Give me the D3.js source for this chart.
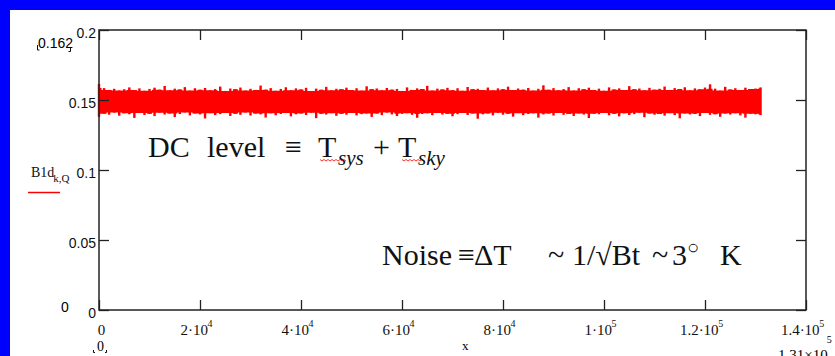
<!DOCTYPE html>
<html lang="en">
<head>
<meta charset="UTF-8">
<title>DC level and noise</title>
<script src="https://d3js.org/d3.v7.min.js"></script>
<style>
    body { margin: 0; background: #0000ff; }
    .ylab { font-family: "Liberation Sans", Arial, sans-serif; font-size: 14px; }
    .serif { font-family: "Liberation Serif", "Times New Roman", serif; }
</style>
</head>
<body>
<div id="chart"></div>
<script>
// Data
const xStart = 0, xStep = 1000;   // envelope samples every 1000 along x, from 0 to 131000
const noiseHi = [
    0.1615,0.1585,0.1572,0.1580,0.1568,0.1577,0.1590,0.1571,0.1583,0.1566,
    0.1579,0.1588,0.1574,0.1600,0.1569,0.1581,0.1575,0.1592,0.1567,0.1584,
    0.1573,0.1586,0.1570,0.1578,0.1596,0.1565,0.1582,0.1576,0.1589,0.1568,
    0.1580,0.1572,0.1603,0.1574,0.1585,0.1566,0.1579,0.1591,0.1570,0.1583,
    0.1575,0.1587,0.1564,0.1581,0.1573,0.1594,0.1569,0.1580,0.1576,0.1588,
    0.1571,0.1584,0.1567,0.1598,0.1577,0.1582,0.1570,0.1586,0.1574,0.1579,
    0.1565,0.1590,0.1572,0.1583,0.1578,0.1601,0.1568,0.1581,0.1575,0.1587,
    0.1570,0.1584,0.1566,0.1593,0.1576,0.1580,0.1572,0.1589,0.1569,0.1583,
    0.1577,0.1595,0.1571,0.1582,0.1574,0.1586,0.1567,0.1580,0.1605,0.1573,
    0.1585,0.1570,0.1578,0.1592,0.1568,0.1584,0.1576,0.1588,0.1572,0.1581,
    0.1566,0.1590,0.1575,0.1583,0.1571,0.1599,0.1577,0.1582,0.1569,0.1587,
    0.1574,0.1580,0.1596,0.1572,0.1585,0.1578,0.1591,0.1570,0.1583,0.1576,
    0.1589,0.1612,0.1581,0.1567,0.1594,0.1575,0.1584,0.1571,0.1588,0.1578,
    0.1582,0.1590
];
const noiseLo = [
    0.1380,0.1402,0.1395,0.1410,0.1388,0.1405,0.1398,0.1372,0.1407,0.1393,
    0.1401,0.1385,0.1409,0.1396,0.1403,0.1378,0.1400,0.1411,0.1390,0.1404,
    0.1397,0.1368,0.1406,0.1392,0.1399,0.1408,0.1386,0.1402,0.1394,0.1410,
    0.1389,0.1403,0.1397,0.1375,0.1405,0.1391,0.1400,0.1407,0.1383,0.1398,
    0.1404,0.1393,0.1409,0.1370,0.1401,0.1396,0.1406,0.1387,0.1402,0.1395,
    0.1408,0.1390,0.1399,0.1404,0.1379,0.1403,0.1392,0.1410,0.1397,0.1385,
    0.1401,0.1406,0.1394,0.1373,0.1400,0.1405,0.1391,0.1408,0.1396,0.1402,
    0.1384,0.1399,0.1407,0.1393,0.1403,0.1366,0.1398,0.1404,0.1390,0.1409,
    0.1395,0.1401,0.1381,0.1406,0.1392,0.1400,0.1405,0.1374,0.1397,0.1403,
    0.1389,0.1408,0.1394,0.1400,0.1386,0.1404,0.1396,0.1371,0.1402,0.1398,
    0.1407,0.1391,0.1401,0.1383,0.1405,0.1393,0.1399,0.1409,0.1377,0.1403,
    0.1395,0.1400,0.1388,0.1406,0.1392,0.1369,0.1404,0.1397,0.1401,0.1385,
    0.1408,0.1394,0.1399,0.1380,0.1403,0.1396,0.1405,0.1390,0.1374,0.1402,
    0.1398,0.1392
];
const xTicks = [0, 20000, 40000, 60000, 80000, 100000, 120000, 140000];
const xTickLabels = [["0", ""], ["2·10", "4"], ["4·10", "4"], ["6·10", "4"], ["8·10", "4"],
                     ["1·10", "5"], ["1.2·10", "5"], ["1.4·10", "5"]];
const yTicks = [0, 0.05, 0.1, 0.15, 0.2];
const yTickLabels = ["0", "0.05", "0.1", "0.15", "0.2"];
const yMarker = "0.162", yMin = "0", xMin = "0", xMax = ["1.31×10", "5"];

const W = 835, H = 356;
const plot = { left: 99, right: 806, top: 30, bottom: 310 };

const svg = d3.select("#chart").append("svg")
    .attr("width", W).attr("height", H);

// blue frame and white page
svg.append("rect").attr("width", W).attr("height", H).attr("fill", "#0000ff");
svg.append("rect").attr("x", 10).attr("y", 10).attr("width", W - 10).attr("height", H - 10).attr("fill", "#fff");

const x = d3.scaleLinear().domain([0, 140000]).range([plot.left, plot.right]);
const y = d3.scaleLinear().domain([0, 0.2]).range([plot.bottom, plot.top]);

// noise band: a body between neighbouring samples, with each sample drawn as a thin spike
const band = noiseHi.map((h, i) => ({ x: xStart + i * xStep, hi: h, lo: noiseLo[i] }));
const n = band.length;
const body = band.map((d, i) => {
    const nb = band.slice(Math.max(0, i - 1), Math.min(n, i + 2));
    return { x: d.x, hi: d3.min(nb, e => e.hi), lo: d3.max(nb, e => e.lo) };
});
svg.append("path").datum(body)
    .attr("d", d3.area().curve(d3.curveStep).x(d => x(d.x)).y0(d => y(d.lo)).y1(d => y(d.hi)))
    .attr("fill", "#ff0000");

svg.append("g").selectAll("rect").data(band).join("rect")
    .attr("x", d => x(d.x) - 1.2)
    .attr("width", 2.4)
    .attr("y", d => y(d.hi))
    .attr("height", d => y(d.lo) - y(d.hi))
    .attr("fill", "#ff0000");

// axes with inward ticks
const left = svg.append("g").attr("transform", `translate(${plot.left},0)`)
    .call(d3.axisLeft(y).tickValues(yTicks).tickSize(-10).tickSizeOuter(0).tickPadding(3)
        .tickFormat((d, i) => yTickLabels[i]));
left.selectAll("text").attr("class", "ylab").attr("fill", "#111").attr("dy", "0.52em");

svg.append("g").attr("transform", `translate(${plot.right},0)`)
    .call(d3.axisRight(y).tickValues(yTicks).tickSize(-10).tickSizeOuter(0).tickFormat(""));

svg.append("g").attr("transform", `translate(0,${plot.top})`)
    .call(d3.axisTop(x).tickValues(xTicks).tickSize(-10).tickSizeOuter(0).tickFormat(""));

const bottom = svg.append("g").attr("transform", `translate(0,${plot.bottom})`)
    .call(d3.axisBottom(x).tickValues(xTicks).tickSize(-10).tickSizeOuter(0).tickFormat(""));

bottom.selectAll(".tick").each(function (d, i) {
    const [base, sup] = xTickLabels[i];
    const t = d3.select(this).append("text")
        .attr("class", "serif")
        .attr("fill", "#111")
        .attr("font-size", 15)
        .attr("text-anchor", "middle")
        .attr("y", 25)
        .attr("x", sup ? -4 : 2);
    t.append("tspan").text(base);
    if (sup) t.append("tspan").attr("font-size", 10).attr("dx", -0.5).attr("dy", -8).text(sup);
});

svg.selectAll(".domain").remove();
svg.selectAll(".tick line").attr("stroke", "#222").attr("stroke-width", 1.3);

// plot frame
svg.append("rect")
    .attr("x", plot.left).attr("y", plot.top)
    .attr("width", plot.right - plot.left).attr("height", plot.bottom - plot.top)
    .attr("fill", "none").attr("stroke", "#222").attr("stroke-width", 1.5);

// y marker value and y min
svg.append("text").attr("class", "ylab").attr("x", 38).attr("y", 48).attr("font-size", 13).text(yMarker);
svg.append("path").attr("d", "M37.5,45V50H39.5 M70.5,47V51.5H68.5")
    .attr("fill", "none").attr("stroke", "#111").attr("stroke-width", 1);
svg.append("text").attr("class", "ylab").attr("x", 61).attr("y", 312).text(yMin);

// trace name and legend line
const lab = svg.append("text").attr("class", "serif").attr("x", 31).attr("y", 177).attr("font-size", 14).attr("fill", "#111");
lab.append("tspan").text("B1d");
lab.append("tspan").attr("dx", -1).attr("dy", 5).attr("font-size", 11).text("k,Q");
svg.append("line").attr("x1", 28).attr("x2", 60).attr("y1", 192.5).attr("y2", 192.5)
    .attr("stroke", "#ff0000").attr("stroke-width", 1.5);

// x min / x name / x max
svg.append("text").attr("class", "serif").attr("x", 97).attr("y", 351).attr("font-size", 14).text(xMin);
svg.append("path").attr("d", "M93.5,350V352.5H95 M106.5,350V352.5H105")
    .attr("fill", "none").attr("stroke", "#111").attr("stroke-width", 1);
svg.append("text").attr("class", "serif").attr("x", 462).attr("y", 350).attr("font-size", 13).text("x");
const xm = svg.append("text").attr("class", "serif").attr("x", 778).attr("y", 360).attr("font-size", 15);
xm.append("tspan").text(xMax[0]);
xm.append("tspan").attr("font-size", 10).attr("dx", -1).attr("dy", -17).text(xMax[1]);

// annotations
function piece(g, px, py, str, size, italic) {
    g.append("text").attr("x", px).attr("y", py)
        .attr("font-family", '"Liberation Serif", "Times New Roman", serif')
        .attr("font-size", size).attr("font-style", italic ? "italic" : null)
        .attr("fill", "#111").text(str);
}
const dc = svg.append("g");
piece(dc, 148, 157, "DC", 30);
piece(dc, 207, 157, "level", 30);
piece(dc, 285, 157, "≡", 30);
piece(dc, 318, 157, "T", 30);
piece(dc, 338, 165, "sys", 21, true);
piece(dc, 373, 157, "+", 30);
piece(dc, 398, 157, "T", 30);
piece(dc, 418, 165, "sky", 21, true);

const squiggle = (x0, x1, yy) => {
    let p = `M${x0},${yy}`;
    for (let xx = x0, k = 0; xx < x1; xx += 2, k++) p += `L${xx + 2},${yy + (k % 2 ? 0 : 1.5)}`;
    return p;
};
dc.append("path").attr("d", squiggle(320, 346, 159.5) + squiggle(402, 422, 159.5))
    .attr("fill", "none").attr("stroke", "#ff0000").attr("stroke-width", 0.8);

const nz = svg.append("g");
piece(nz, 382, 265, "Noise", 30);
piece(nz, 458, 265, "≡", 30);
piece(nz, 474, 265, "ΔT", 30);
piece(nz, 548, 265, "~", 30);
piece(nz, 572, 265, "1/√Bt", 30);
piece(nz, 652, 265, "~", 30);
piece(nz, 672, 265, "3", 30);
piece(nz, 687, 254, "○", 20);
piece(nz, 720, 265, "K", 30);
</script>
</body>
</html>
